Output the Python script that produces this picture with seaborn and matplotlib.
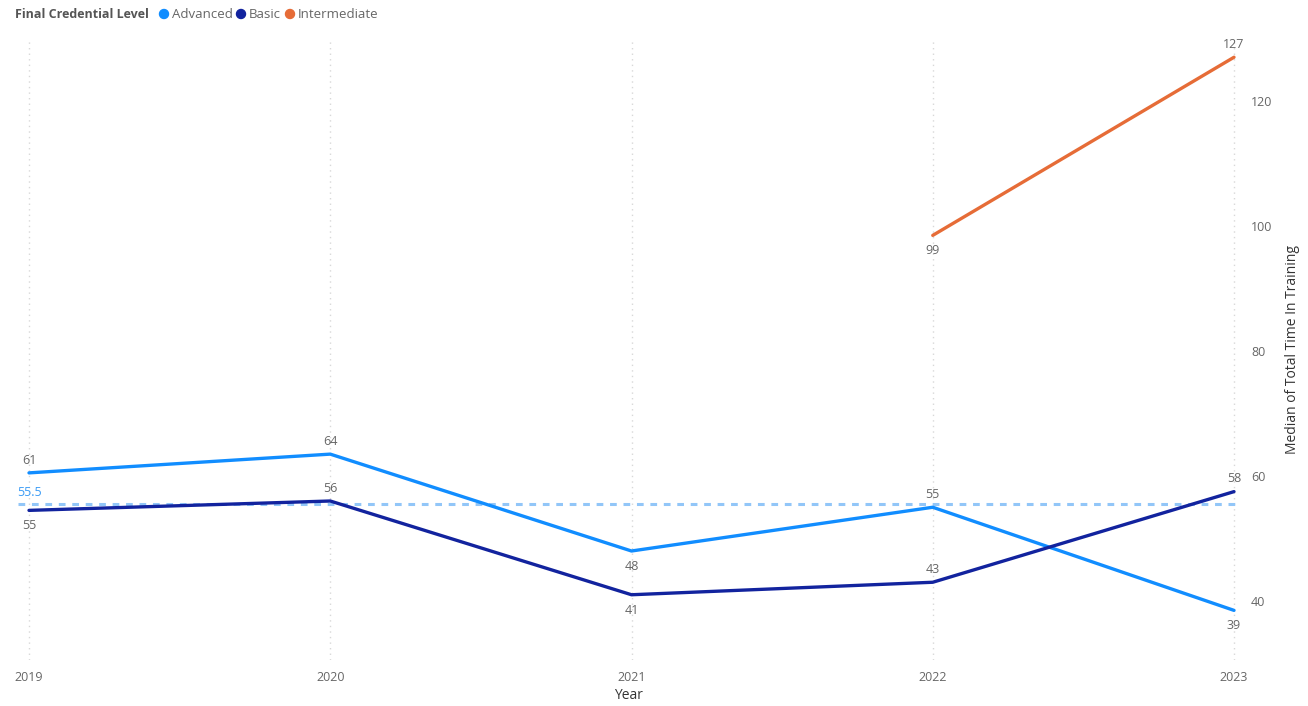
import matplotlib
matplotlib.use("Agg")
import matplotlib.pyplot as plt
import seaborn as sns
import pandas as pd
import math

years = [2019, 2020, 2021, 2022, 2023]
advanced = [60.5, 63.5, 48, 55, 38.5]
basic = [54.5, 56, 41, 43, 57.5]
intermediate_years = [2022, 2023]
intermediate = [98.5, 127]
median_line = 55.5
series_names = ["Advanced", "Basic", "Intermediate"]
colors = {"Advanced": "#118DFF", "Basic": "#12239E", "Intermediate": "#E66C37"}
yticks = [40, 60, 80, 100, 120]

df = pd.concat([
    pd.DataFrame({"Year": years, "Value": advanced, "Level": "Advanced"}),
    pd.DataFrame({"Year": years, "Value": basic, "Level": "Basic"}),
    pd.DataFrame({"Year": intermediate_years, "Value": intermediate, "Level": "Intermediate"}),
])

sns.set_theme(style="white")
plt.rcParams['font.family'] = ['Open Sans', 'DejaVu Sans']

W, H = 1308, 706
fig = plt.figure(figsize=(W / 100, H / 100), dpi=100)
ax_left, ax_right, ax_top, ax_bot = 18, 1240, 40, 660
ax = fig.add_axes([ax_left / W, 1 - ax_bot / H, (ax_right - ax_left) / W, (ax_bot - ax_top) / H])

pxy = 301.25
ax.set_xlim(2019 - 11 / pxy, 2023 + 6 / pxy)
upp = 20 / 125
ax.set_ylim(60 - (ax_bot - 476) * upp, 60 + (476 - ax_top) * upp)

for x in years:
    ax.axvline(x, color="#D8D8D8", lw=1, ls=(0, (1, 3)), zorder=0)

ax.axhline(median_line, color="#92C6F8", lw=2.2, ls=(0, (2.2, 2.2)), zorder=1)

sns.lineplot(data=df, x="Year", y="Value", hue="Level", hue_order=series_names,
             palette=colors, lw=2.4, legend=False, ax=ax, zorder=3)

def lab(v):
    return str(int(math.floor(v + 0.5)))

label_pos = {
    "Advanced": ["above", "above", "below", "above", "below"],
    "Basic": ["below", "above", "below", "above", "above"],
    "Intermediate": ["below", "above"],
}
for name, xs, vs in [("Advanced", years, advanced), ("Basic", years, basic),
                     ("Intermediate", intermediate_years, intermediate)]:
    for x, v, p in zip(xs, vs, label_pos[name]):
        off = 4.5 if p == "above" else -6.5
        ax.annotate(lab(v), (x, v), xytext=(0, off), textcoords="offset points",
                    ha="center", va="bottom" if p == "above" else "top",
                    fontsize=9, color="#666666")

ax.annotate(f"{median_line}", (2019, median_line), xytext=(0, 4), textcoords="offset points",
            ha="center", va="bottom", fontsize=9, color="#3A9BF5")

ax.yaxis.tick_right()
ax.yaxis.set_label_position("right")
ax.set_yticks(yticks)
ax.set_yticklabels([str(t) for t in yticks])
ax.set_xticks(years)
ax.set_xticklabels([str(y) for y in years])
ax.tick_params(axis="both", length=0, labelsize=9, labelcolor="#666666")
ax.tick_params(axis="y", pad=8)
ax.tick_params(axis="x", pad=8)
ax.set_ylabel("Median of Total Time In Training", fontsize=10, color="#333333", labelpad=9)
ax.set_xlabel("Year", fontsize=10, color="#333333", labelpad=3)
for s in ax.spines.values():
    s.set_visible(False)
ax.grid(False)

# legend
ly = 1 - 14 / H
fig.text(15 / W, ly, "Final Credential Level", fontsize=9, fontweight="bold",
         color="#555555", va="center", ha="left")
for name, cx, tx in [("Advanced", 164, 172), ("Basic", 241, 249), ("Intermediate", 290, 298)]:
    fig.patches.append(matplotlib.patches.Ellipse((cx / W, ly), 9 / W, 9 / H,
                       transform=fig.transFigure, color=colors[name], figure=fig))
    fig.text(tx / W, ly, name, fontsize=9.5, color="#666666", va="center", ha="left")

fig.savefig("out.png", dpi=100, facecolor="white")
